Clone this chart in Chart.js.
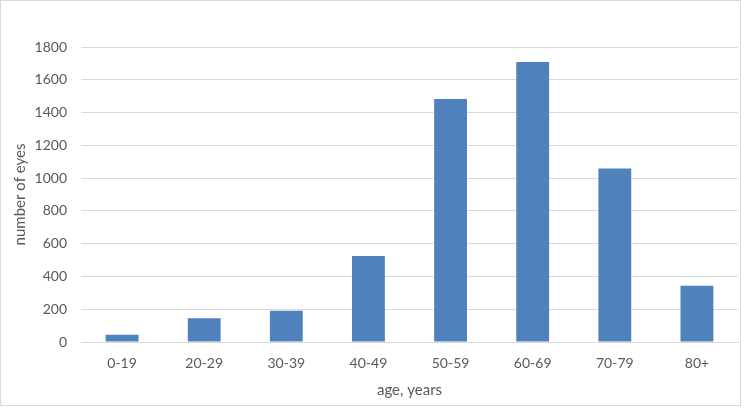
<!DOCTYPE html>
<html>
<head>
<meta charset="utf-8">
<script src="https://cdn.jsdelivr.net/npm/chart.js@4.4.1/dist/chart.umd.min.js"></script>
<style>
  html, body { margin: 0; padding: 0; background: #fff; }
  #wrap { width: 749px; height: 409px; position: relative; }
</style>
</head>
<body>
<div id="wrap"><canvas id="eyesChart"></canvas></div>
<script>
const ageGroups = ['0-19', '20-29', '30-39', '40-49', '50-59', '60-69', '70-79', '80+'];
const eyeCounts = [45, 145, 190, 525, 1482, 1708, 1058, 343];
const yTicks = [0, 200, 400, 600, 800, 1000, 1200, 1400, 1600, 1800];

const textGray = '#595959';
const fontFamily = 'Lato, "Open Sans", sans-serif';

// light frame round the whole chart, like the spreadsheet chart box
const frame = {
  id: 'frame',
  beforeDraw(chart) {
    const ctx = chart.ctx;
    ctx.save();
    ctx.strokeStyle = '#d9d9d9';
    ctx.lineWidth = 1;
    ctx.strokeRect(0.5, 0.5, 740, 405);
    ctx.restore();
  }
};

const ctx = document.getElementById('eyesChart').getContext('2d');
new Chart(ctx, {
  type: 'bar',
  data: {
    labels: ageGroups,
    datasets: [{
      label: 'number of eyes',
      data: eyeCounts,
      backgroundColor: '#4f81bd',
      borderColor: '#4f81bd',
      borderWidth: 0,
      categoryPercentage: 1,
      barPercentage: 0.4
    }]
  },
  options: {
    responsive: true,
    maintainAspectRatio: false,
    animation: false,
    layout: { padding: { top: 47, right: 11, bottom: 10, left: 11 } },
    plugins: {
      legend: { display: false },
      tooltip: { enabled: false }
    },
    scales: {
      x: {
        grid: { display: false, drawTicks: false },
        border: { display: true, color: '#d9d9d9' },
        ticks: { color: textGray, font: { family: fontFamily, size: 14 }, padding: 13 },
        title: {
          display: true,
          text: 'age, years',
          color: textGray,
          font: { family: fontFamily, size: 15 },
          padding: { top: 6, bottom: 0 }
        },
        afterFit(scale) { scale.height = 57; }
      },
      y: {
        min: 0,
        max: 1800,
        afterBuildTicks(scale) { scale.ticks = yTicks.map(v => ({ value: v })); },
        grid: { color: '#d9d9d9', drawTicks: false },
        border: { display: false },
        ticks: {
          color: textGray,
          font: { family: fontFamily, size: 14 },
          padding: 14,
          callback: v => String(v)
        },
        title: {
          display: true,
          text: 'number of eyes',
          color: textGray,
          font: { family: fontFamily, size: 15 },
          padding: { top: 0, bottom: 4 }
        },
        afterFit(scale) { scale.width = 70; }
      }
    }
  },
  plugins: [frame]
});
</script>
</body>
</html>
